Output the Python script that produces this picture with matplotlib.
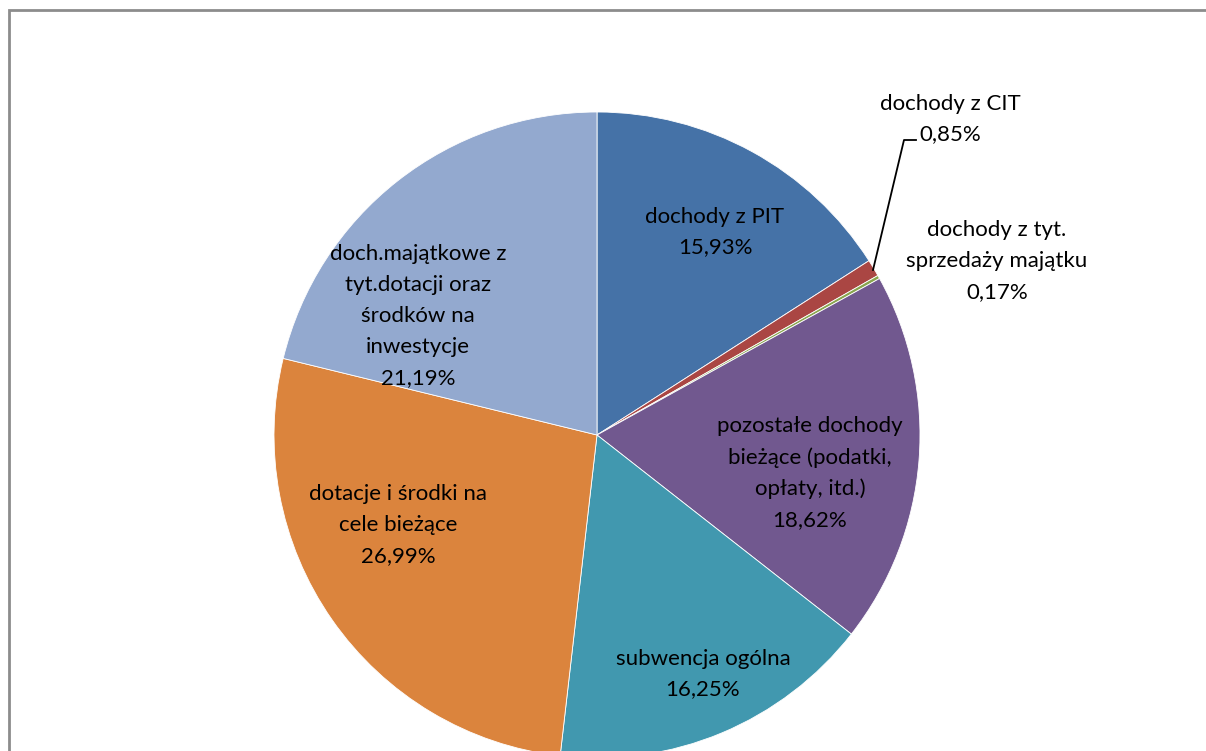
import matplotlib
matplotlib.use("Agg")
import matplotlib.pyplot as plt

# pie data, clockwise from 12 o'clock
labels = ["dochody z PIT", "dochody z CIT", "dochody z tyt.\nsprzedaży majątku",
          "pozostałe dochody\nbieżące (podatki,\nopłaty, itd.)", "subwencja ogólna",
          "dotacje i środki na\ncele bieżące",
          "doch.majątkowe z\ntyt.dotacji oraz\nśrodków na\ninwestycje"]
values = [15.93, 0.85, 0.17, 18.62, 16.25, 26.99, 21.19]
colors = ["#4572A7", "#AA4643", "#89A54E", "#71588F", "#4198AF", "#DB843D", "#93A9CF"]

# label positions in pixels (x, y from top)
label_pos = [(715, 232), (950, 119), (997, 261), (810, 473), (703, 674), (398, 525), (418, 316)]

W, H = 1206, 751
fig = plt.figure(figsize=(W / 100, H / 100), dpi=100)
ax = fig.add_axes([0, 0, 1, 1])
plt.rcParams['font.family'] = ['Lato', 'DejaVu Sans']

cx, cy, r = 597, H - 435, 323
ax.pie(values, colors=colors, startangle=90, counterclock=False,
       center=(cx, cy), radius=r,
       wedgeprops=dict(edgecolor="white", linewidth=0.6))

for lab, v, (px, py) in zip(labels, values, label_pos):
    txt = lab + "\n" + ("%.2f" % v).replace(".", ",") + "%"
    ax.text(px, H - py, txt, ha="center", va="center", fontsize=16,
            linespacing=1.68, color="black")

# leader line for CIT
ax.plot([873, 904, 916], [H - 270, H - 140, H - 140], color="black", lw=1.3)

# chart frame (cropped on right and bottom)
ax.plot([9, 9, W + 5], [-5, H - 10, H - 10], color="#8c8c8c", lw=2, solid_joinstyle="miter")

ax.set_xlim(0, W)
ax.set_ylim(0, H)
ax.set_aspect("auto")
ax.axis("off")

fig.savefig("out.png", dpi=100)
